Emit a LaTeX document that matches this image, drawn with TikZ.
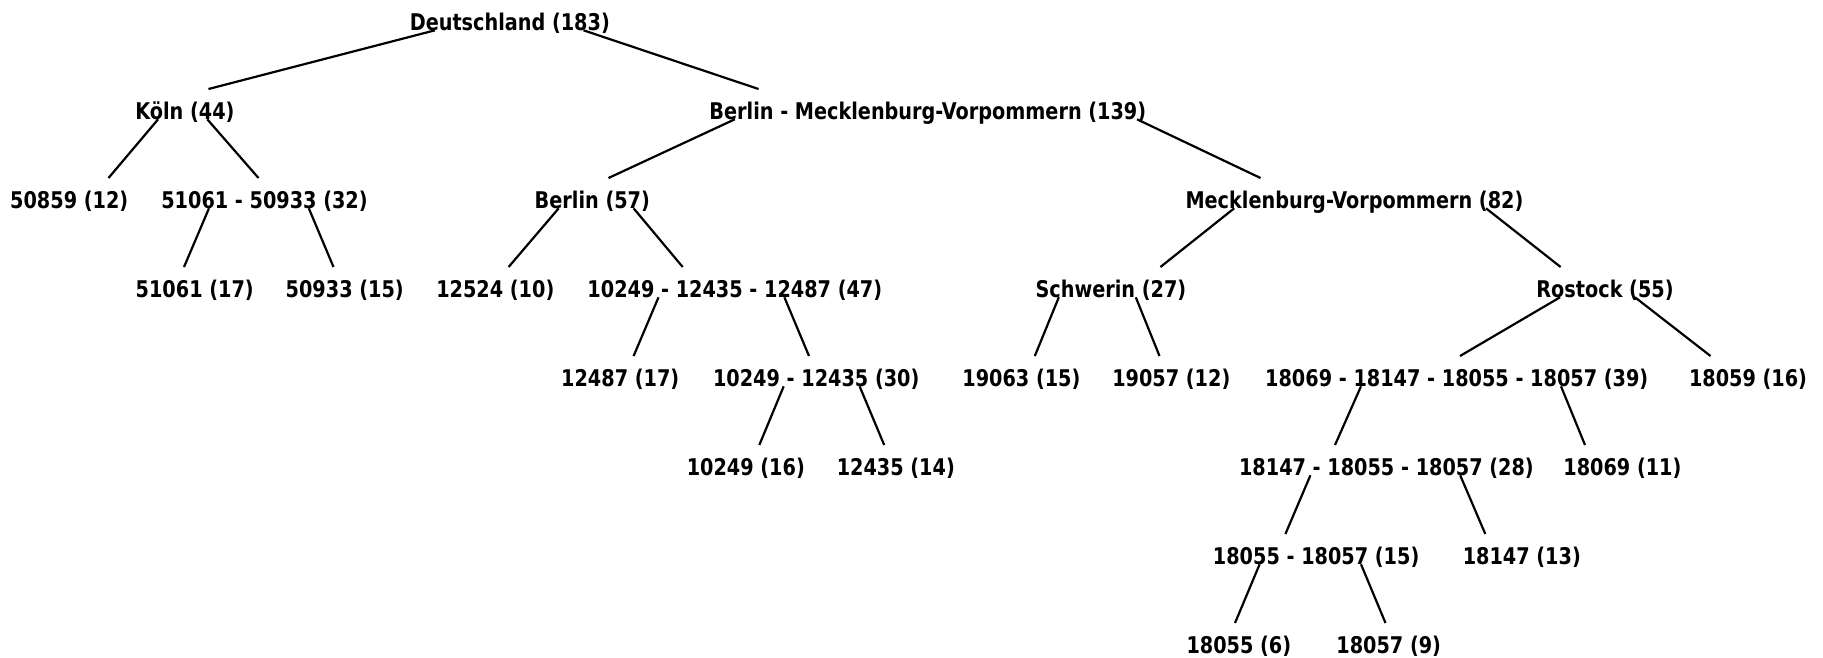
\documentclass[tikz,border=0pt]{standalone}
\usepackage{fontspec}
\setmainfont{DejaVu Sans Condensed}[FakeStretch=0.93]
\begin{document}
\begin{tikzpicture}[x=1pt, y=-1pt,
  lbl/.style={anchor=base, inner sep=0pt, font=\bfseries\fontsize{23pt}{27pt}\selectfont},
  link/.style={draw=black, line width=2.2pt}]
\useasboundingbox (0,0) rectangle (1823,657);
% a link leaves the parent just under its baseline and stops above the child's text
\newcommand{\tlink}[4]{\draw[link] ([xshift=#2pt]#1.base) -- ([xshift=#4pt, yshift=30.3pt]#3.base);}

% level 0
\node[lbl] (de) at (509.8, 30.3) {Deutschland (183)};
% level 1
\node[lbl] (koeln) at (184.9, 119.3) {Köln (44)};
\node[lbl] (bmv) at (927.8, 119.3) {Berlin - Mecklenburg-Vorpommern (139)};
% level 2
\node[lbl] (p50859) at (69.2, 208.3) {50859 (12)};
\node[lbl] (k32) at (264.5, 208.3) {51061 - 50933 (32)};
\node[lbl] (b57) at (592.3, 208.3) {Berlin (57)};
\node[lbl] (mv82) at (1354.4, 208.3) {Mecklenburg-Vorpommern (82)};
% level 3
\node[lbl] (p51061) at (194.7, 297.3) {51061 (17)};
\node[lbl] (p50933) at (344.7, 297.3) {50933 (15)};
\node[lbl] (p12524) at (495.3, 297.3) {12524 (10)};
\node[lbl] (b47) at (734.8, 297.3) {10249 - 12435 - 12487 (47)};
\node[lbl] (schwerin) at (1110.9, 297.3) {Schwerin (27)};
\node[lbl] (rostock) at (1605.0, 297.3) {Rostock (55)};
% level 4
\node[lbl] (p12487) at (620.2, 386.3) {12487 (17)};
\node[lbl] (b30) at (816.2, 386.3) {10249 - 12435 (30)};
\node[lbl] (p19063) at (1021.4, 386.3) {19063 (15)};
\node[lbl] (p19057) at (1171.3, 386.3) {19057 (12)};
\node[lbl] (r39) at (1456.7, 386.3) {18069 - 18147 - 18055 - 18057 (39)};
\node[lbl] (p18059) at (1748.0, 386.3) {18059 (16)};
% level 5
\node[lbl] (p10249) at (745.8, 475.3) {10249 (16)};
\node[lbl] (p12435) at (895.8, 475.3) {12435 (14)};
\node[lbl] (r28) at (1386.4, 475.3) {18147 - 18055 - 18057 (28)};
\node[lbl] (p18069) at (1622.4, 475.3) {18069 (11)};
% level 6
\node[lbl] (r15) at (1316.1, 564.3) {18055 - 18057 (15)};
\node[lbl] (p18147) at (1521.8, 564.3) {18147 (13)};
% level 7
\node[lbl] (p18055) at (1238.8, 653.3) {18055 (6)};
\node[lbl] (p18057) at (1388.7, 653.3) {18057 (9)};

% links
\tlink{de}{-74.8}{koeln}{23.6}
\tlink{de}{73.7}{bmv}{-169.3}
\tlink{koeln}{-26.8}{p50859}{39.3}
\tlink{koeln}{22.4}{k32}{-6}
\tlink{k32}{-55.5}{p51061}{-10.7}
\tlink{k32}{44.3}{p50933}{-11.2}
\tlink{bmv}{-193}{b57}{16.2}
\tlink{bmv}{209.2}{mv82}{-93.9}
\tlink{b57}{-33.6}{p12524}{13.3}
\tlink{b57}{41.3}{b47}{-52.1}
\tlink{b47}{-76.3}{p12487}{13.4}
\tlink{b47}{49.6}{b30}{-7.2}
\tlink{b30}{-32.5}{p10249}{13.5}
\tlink{b30}{43.4}{p12435}{-11.6}
\tlink{mv82}{-120.2}{schwerin}{49.5}
\tlink{mv82}{131.6}{rostock}{-44.4}
\tlink{schwerin}{-52.1}{p19063}{13.4}
\tlink{schwerin}{24.9}{p19057}{-11.8}
\tlink{rostock}{-45}{r39}{3.3}
\tlink{rostock}{30}{p18059}{-37.5}
\tlink{r39}{-95.7}{r28}{-51.4}
\tlink{r39}{104.3}{p18069}{-37.4}
\tlink{r28}{-76}{r15}{-30.7}
\tlink{r28}{73.8}{p18147}{-36.5}
\tlink{r15}{-56.5}{p18055}{-3.8}
\tlink{r15}{44.9}{p18057}{-3.2}
\end{tikzpicture}
\end{document}
